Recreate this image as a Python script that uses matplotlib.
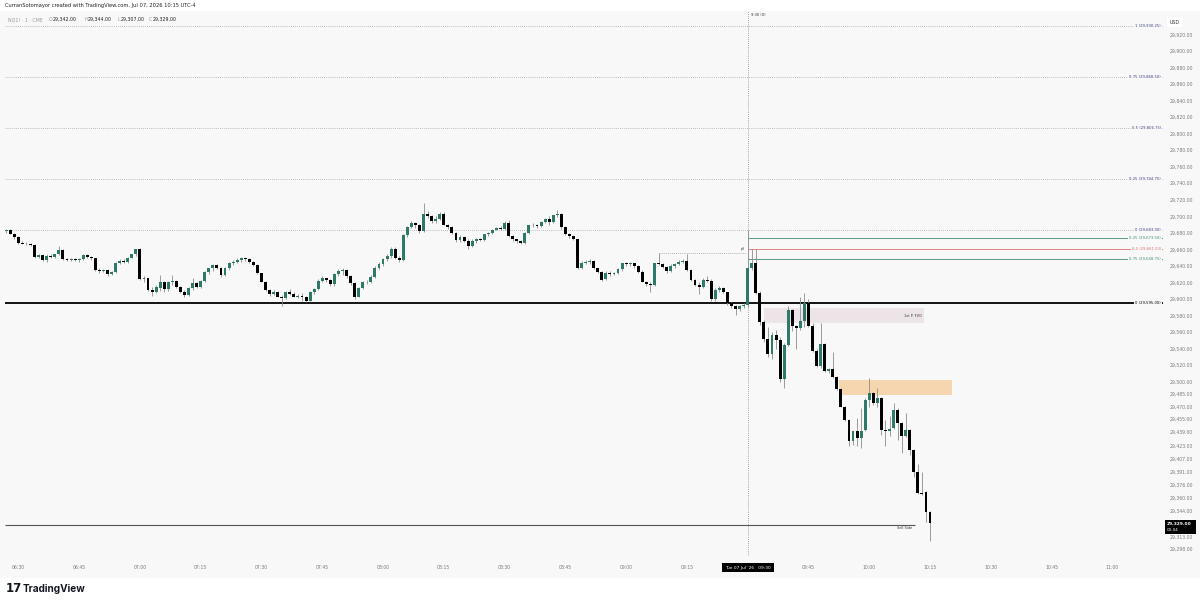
import matplotlib.pyplot as plt
from matplotlib.patches import Rectangle, FancyBboxPatch
from matplotlib.transforms import blended_transform_factory
import numpy as np

# NQ1! 1-minute bars, 06:27 .. 10:15
opens = [29682, 29683, 29679, 29675, 29668, 29667, 29666, 29665, 29651, 29653,
         29647, 29652, 29651, 29654, 29659, 29648, 29647, 29648, 29647, 29648,
         29653, 29651, 29649, 29635, 29634, 29635, 29630, 29633, 29644, 29646,
         29645, 29650, 29654, 29660, 29624, 29625, 29611, 29609, 29613, 29621,
         29612, 29620, 29622, 29614, 29609, 29605, 29613, 29619, 29615, 29622,
         29633, 29637, 29641, 29638, 29629, 29637, 29643, 29645, 29647, 29649,
         29648, 29645, 29641, 29631, 29621, 29611, 29606, 29609, 29603, 29601,
         29608, 29606, 29603, 29604, 29602, 29598, 29608, 29612, 29622, 29625,
         29623, 29618, 29630, 29634, 29635, 29628, 29619, 29603, 29613, 29620,
         29621, 29627, 29638, 29642, 29648, 29652, 29661, 29650, 29647, 29677,
         29687, 29692, 29689, 29682, 29703, 29700, 29694, 29697, 29703, 29690,
         29687, 29680, 29671, 29675, 29670, 29664, 29670, 29672, 29671, 29678,
         29680, 29684, 29686, 29685, 29692, 29676, 29672, 29670, 29668, 29680,
         29689, 29690, 29688, 29693, 29697, 29693, 29701, 29703, 29687, 29678,
         29676, 29672, 29637, 29644, 29645, 29646, 29637, 29633, 29624, 29632,
         29630, 29631, 29636, 29643, 29642, 29643, 29640, 29633, 29621, 29618,
         29617, 29643, 29642, 29639, 29634, 29640, 29642, 29645, 29646, 29635,
         29623, 29617, 29615, 29623, 29622, 29600, 29611, 29613, 29608, 29595,
         29591, 29588, 29592, 29593, 29637, 29643, 29607, 29572, 29552, 29534,
         29556, 29550, 29503, 29545, 29587, 29567, 29565, 29573, 29595, 29567,
         29537, 29519, 29546, 29513, 29515, 29506, 29491, 29470, 29454, 29428,
         29440, 29432, 29442, 29478, 29486, 29474, 29480, 29442, 29441, 29444,
         29466, 29450, 29434, 29442, 29418, 29391, 29366, 29367, 29342]
highs = [29685, 29685, 29680, 29676, 29670, 29669, 29668, 29666, 29655, 29654,
         29654, 29654, 29655, 29664, 29660, 29650, 29649, 29650, 29649, 29655,
         29655, 29652, 29650, 29638, 29636, 29636, 29634, 29645, 29648, 29648,
         29651, 29655, 29661, 29662, 29628, 29626, 29614, 29617, 29629, 29622,
         29622, 29629, 29623, 29616, 29611, 29615, 29625, 29620, 29623, 29634,
         29638, 29642, 29642, 29639, 29639, 29645, 29647, 29649, 29651, 29651,
         29649, 29646, 29642, 29632, 29622, 29612, 29611, 29610, 29605, 29610,
         29612, 29609, 29606, 29607, 29604, 29610, 29613, 29624, 29628, 29626,
         29624, 29632, 29636, 29637, 29636, 29629, 29620, 29615, 29622, 29623,
         29629, 29640, 29645, 29650, 29654, 29663, 29663, 29652, 29678, 29688,
         29694, 29693, 29691, 29716, 29706, 29702, 29700, 29705, 29705, 29691,
         29688, 29681, 29677, 29676, 29672, 29672, 29674, 29674, 29679, 29681,
         29685, 29687, 29688, 29694, 29695, 29677, 29673, 29671, 29681, 29690,
         29692, 29691, 29694, 29698, 29700, 29702, 29708, 29704, 29688, 29680,
         29677, 29673, 29646, 29647, 29648, 29647, 29638, 29634, 29634, 29634,
         29633, 29638, 29644, 29645, 29645, 29644, 29641, 29635, 29622, 29620,
         29644, 29656, 29643, 29640, 29642, 29644, 29647, 29648, 29654, 29636,
         29624, 29620, 29625, 29628, 29624, 29613, 29616, 29614, 29609, 29596,
         29593, 29593, 29595, 29683, 29661, 29661, 29610, 29575, 29566, 29560,
         29562, 29554, 29547, 29591, 29588, 29569, 29603, 29607, 29600, 29571,
         29539, 29571, 29547, 29516, 29536, 29507, 29492, 29471, 29455, 29441,
         29456, 29468, 29480, 29505, 29488, 29492, 29482, 29454, 29458, 29474,
         29468, 29451, 29462, 29443, 29419, 29401, 29391, 29368, 29344]
lows = [29680, 29678, 29673, 29667, 29666, 29665, 29664, 29650, 29649, 29646,
        29645, 29650, 29650, 29653, 29647, 29646, 29646, 29646, 29645, 29647,
        29650, 29647, 29634, 29632, 29633, 29628, 29629, 29632, 29642, 29644,
        29643, 29649, 29652, 29623, 29620, 29610, 29604, 29607, 29610, 29609,
        29610, 29617, 29613, 29607, 29602, 29604, 29611, 29613, 29613, 29620,
        29630, 29634, 29636, 29627, 29628, 29635, 29641, 29643, 29645, 29646,
        29644, 29640, 29630, 29620, 29610, 29604, 29605, 29602, 29592, 29600,
        29605, 29602, 29601, 29598, 29596, 29597, 29606, 29611, 29620, 29621,
        29616, 29616, 29628, 29629, 29626, 29617, 29600, 29602, 29612, 29618,
        29619, 29625, 29636, 29640, 29646, 29650, 29648, 29645, 29646, 29675,
        29686, 29686, 29680, 29681, 29698, 29692, 29692, 29695, 29689, 29685,
        29678, 29669, 29669, 29669, 29661, 29663, 29668, 29670, 29670, 29676,
        29679, 29683, 29683, 29684, 29675, 29670, 29668, 29666, 29667, 29679,
        29687, 29686, 29687, 29692, 29690, 29692, 29699, 29685, 29677, 29674,
        29671, 29636, 29636, 29642, 29642, 29636, 29632, 29622, 29623, 29628,
        29629, 29630, 29634, 29640, 29640, 29638, 29632, 29620, 29616, 29609,
        29616, 29641, 29637, 29632, 29633, 29638, 29641, 29643, 29634, 29622,
        29616, 29606, 29613, 29620, 29598, 29598, 29608, 29607, 29593, 29589,
        29581, 29586, 29589, 29590, 29635, 29606, 29568, 29548, 29530, 29528,
        29540, 29500, 29493, 29543, 29561, 29539, 29563, 29566, 29566, 29536,
        29518, 29517, 29512, 29510, 29505, 29490, 29469, 29453, 29422, 29424,
        29422, 29420, 29440, 29470, 29472, 29470, 29436, 29422, 29434, 29443,
        29430, 29414, 29433, 29411, 29385, 29364, 29363, 29331, 29307]
closes = [29683, 29679, 29675, 29668, 29667, 29666, 29665, 29651, 29653, 29647,
          29652, 29651, 29654, 29659, 29648, 29647, 29648, 29647, 29648, 29653,
          29651, 29649, 29635, 29634, 29635, 29630, 29633, 29644, 29646, 29645,
          29650, 29654, 29660, 29624, 29625, 29611, 29609, 29615, 29621, 29612,
          29620, 29622, 29614, 29609, 29605, 29613, 29619, 29615, 29622, 29633,
          29637, 29641, 29638, 29629, 29637, 29643, 29645, 29647, 29649, 29648,
          29645, 29641, 29631, 29621, 29611, 29606, 29609, 29603, 29601, 29608,
          29606, 29603, 29604, 29602, 29598, 29608, 29612, 29622, 29625, 29623,
          29618, 29630, 29634, 29635, 29628, 29619, 29603, 29613, 29620, 29621,
          29627, 29638, 29642, 29648, 29652, 29661, 29650, 29647, 29677, 29687,
          29692, 29689, 29682, 29703, 29700, 29694, 29697, 29703, 29690, 29687,
          29680, 29671, 29675, 29670, 29664, 29670, 29672, 29671, 29678, 29680,
          29684, 29686, 29685, 29692, 29676, 29672, 29670, 29668, 29680, 29689,
          29690, 29688, 29693, 29697, 29693, 29701, 29703, 29687, 29678, 29676,
          29672, 29637, 29644, 29645, 29646, 29637, 29633, 29623, 29632, 29630,
          29631, 29636, 29643, 29642, 29643, 29640, 29633, 29621, 29618, 29617,
          29643, 29642, 29639, 29634, 29640, 29642, 29645, 29646, 29635, 29623,
          29617, 29615, 29623, 29622, 29600, 29611, 29613, 29608, 29595, 29591,
          29588, 29592, 29593, 29637, 29643, 29607, 29572, 29552, 29534, 29556,
          29550, 29503, 29545, 29587, 29567, 29565, 29573, 29595, 29567, 29537,
          29519, 29546, 29513, 29515, 29506, 29491, 29470, 29454, 29428, 29440,
          29432, 29440, 29478, 29486, 29474, 29480, 29442, 29441, 29443, 29466,
          29450, 29434, 29442, 29418, 29391, 29365, 29364, 29342, 29329]

# time axis: bar 0 = 06:27, one bar per minute
time_labels = ['06:30', '06:45', '07:00', '07:15', '07:30', '07:45', '08:00', '08:15',
               '08:30', '08:45', '09:00', '09:15', '09:30', '09:45', '10:00', '10:15',
               '10:30', '10:45', '11:00']
time_label_bars = [3, 18, 33, 48, 63, 78, 93, 108, 123, 138, 153, 168, 183, 198, 213,
                   228, 243, 258, 273]
open_bar = 183  # 09:30

price_ticks = [29920, 29900, 29880, 29860, 29840, 29820, 29800, 29780, 29760, 29740,
               29720, 29700, 29680, 29660, 29640, 29620, 29600, 29580, 29560, 29540,
               29520, 29500, 29485, 29470, 29455, 29439, 29423, 29407, 29391, 29376,
               29360, 29344, 29313, 29298]
last_price = 29329.00

# fib levels (premarket range)
fib_top_levels = [29930.25, 29868.50, 29806.75, 29744.75, 29683.00]
fib_top_labels = ['1 (29,930.25)', '0.75 (29,868.50)', '0.5 (29,806.75)',
                  '0.25 (29,744.75)', '0 (29,683.00)']
# fib levels drawn from the 09:30 bar
fib_open_levels = [29673.50, 29661.00, 29648.75]
fib_open_labels = ['0.25 (29,673.50)', '0.5 (29,661.00)', '0.75 (29,648.75)']
fib_open_colors = ['#3f8c78', '#d9706f', '#3f8c78']
key_level = 29595.00
ph_level = 29656.0
sell_side = 29327.0
fvg1 = (187, 226.5, 29571, 29589)     # bar from, bar to, price lo, price hi
fvg2 = (205.6, 233.4, 29484, 29502)

W, H = 1200, 603
BG = '#f8f8f8'
UP = '#2e7a68'
DOWN = '#000000'


def fx(px):
    return px / W


def fy(py):
    return 1 - py / H


fig = plt.figure(figsize=(12, 6.03), dpi=100, facecolor='white')
fig.patches.append(Rectangle((0, fy(578)), 1, fy(11) - fy(578), transform=fig.transFigure,
                             facecolor=BG, edgecolor='none', zorder=-5))
ax = fig.add_axes([fx(5), fy(556), fx(1163) - fx(5), fy(11) - fy(556)])
ax.set_facecolor(BG)
ax.set_xlim(-0.3, 285.5)
ax.set_ylim(29289.3, 29948.2)
for s in ax.spines.values():
    s.set_visible(False)

# candles
x = np.arange(len(closes))
o = np.array(opens, float)
c = np.array(closes, float)
up = c > o
lo = np.minimum(o, c)
hgt = np.maximum(np.abs(c - o), 0.9)
ax.vlines(x, lows, highs, color='#8c8c8c', lw=0.6, zorder=3)
ax.bar(x[up], hgt[up], bottom=lo[up], width=0.72, color=UP, zorder=4, linewidth=0)
ax.bar(x[~up], hgt[~up], bottom=lo[~up], width=0.72, color=DOWN, zorder=4, linewidth=0)

lab_tr = blended_transform_factory(fig.transFigure, ax.transData)
lab_box = dict(boxstyle='square,pad=0.25', facecolor=BG, edgecolor='none')

# premarket fib
for lvl, lab in zip(fib_top_levels, fib_top_labels):
    ax.axhline(lvl, color='#a8a8a8', lw=0.6, ls=(0, (1, 1.5)), zorder=1)
    ax.text(fx(1161), lvl, lab, transform=lab_tr, ha='right', va='center', fontsize=2.7,
            color='#3c3c86', bbox=lab_box, zorder=6)

# 09:30 fib
for lvl, lab, col in zip(fib_open_levels, fib_open_labels, fib_open_colors):
    ax.hlines(lvl, open_bar, 285.5, color=col, lw=0.6, zorder=2)
    ax.text(fx(1161), lvl, lab, transform=lab_tr, ha='right', va='center', fontsize=2.7,
            color=col, bbox=lab_box, zorder=6)

# key level
ax.axhline(key_level, color='black', lw=1.3, zorder=2)
ax.text(fx(1161), key_level, '0 (29,595.00)', transform=lab_tr, ha='right', va='center',
        fontsize=2.7, color='black', bbox=lab_box, zorder=6)

# premarket high marker
ax.hlines(ph_level, 161, open_bar - 0.5, color='#9a9a9a', lw=0.6, ls=(0, (1, 1.5)), zorder=1)
ax.text(open_bar - 0.6, ph_level + 1.5, 'pH', ha='right', va='bottom', fontsize=2.2,
        color='#333333', zorder=6)

# 09:30 vertical
ax.axvline(open_bar, color='#8a8a8a', lw=0.6, ls=(0, (1, 1.5)), zorder=1)
fig.text(fx(751), fy(15), '9:30 (0)', fontsize=2.6, color='#333333', ha='left', va='center')

# FVGs
ax.add_patch(Rectangle((fvg1[0], fvg1[2]), fvg1[1] - fvg1[0], fvg1[3] - fvg1[2],
                       facecolor='#ece4e6', edgecolor='none', zorder=1))
ax.text(fvg1[1] - 0.5, (fvg1[2] + fvg1[3]) / 2, '1st P. FVG', ha='right', va='center',
        fontsize=2.5, color='#333333', zorder=6)
ax.add_patch(Rectangle((fvg2[0], fvg2[2]), fvg2[1] - fvg2[0], fvg2[3] - fvg2[2],
                       facecolor='#f6d6ae', edgecolor='none', zorder=1))

# sell side liquidity
ax.hlines(sell_side, -0.3, 224.3, color='#555555', lw=0.8, zorder=2)
ax.text(223.6, sell_side - 1.5, 'Sell Side', ha='right', va='top', fontsize=2.5,
        color='#333333', zorder=6)

# axes ticks
ax.set_xticks([b for b, t in zip(time_label_bars, time_labels) if b != open_bar])
ax.set_xticklabels([t for b, t in zip(time_label_bars, time_labels) if b != open_bar])
ax.yaxis.tick_right()
ax.set_yticks(price_ticks)
ax.set_yticklabels([f'{v:,.2f}' for v in price_ticks])
ax.tick_params(axis='x', length=0, pad=6.5, labelsize=3.3, labelcolor='#7a7a7a')
ax.tick_params(axis='y', length=0, pad=5, labelsize=3.3, labelcolor='#7a7a7a')

# axis line boxes
fig.text(fx(748), fy(567.5), "Tue 07 Jul '26   09:30", fontsize=3.2, color='white',
         ha='center', va='center',
         bbox=dict(boxstyle='square,pad=0.6', facecolor='black', edgecolor='none'))
fig.patches.append(FancyBboxPatch((fx(1165), fy(534)), fx(31), fy(520) - fy(534),
                                  boxstyle='square,pad=0', transform=fig.transFigure,
                                  facecolor='black', edgecolor='none', zorder=5))
fig.text(fx(1167), fy(523.5), f'{last_price:,.2f}', fontsize=3.2, color='white',
         ha='left', va='center', fontweight='bold', zorder=6)
fig.text(fx(1167), fy(530), '00:04', fontsize=3.0, color='white', ha='left', va='center',
         zorder=6)
fig.text(fx(1170), fy(22), 'USD', fontsize=3.4, color='#333333', ha='left', va='center',
         bbox=dict(boxstyle='square,pad=0.6', facecolor='white', edgecolor='none'))

# header
fig.text(fx(5), fy(5), 'CurranSotomayor created with TradingView.com, Jul 07, 2026 10:15 UTC-4',
         fontsize=3.7, color='#222222', ha='left', va='center')
fig.text(fx(8), fy(19.5), 'NQ1! · 1 · CME', fontsize=3.4, color='#9a9a9a', ha='left', va='center')
for px, letter, val in [(49, 'O', '29,342.00'), (84, 'H', '29,344.00'),
                        (117, 'L', '29,307.00'), (149, 'C', '29,329.00')]:
    fig.text(fx(px), fy(19.5), letter, fontsize=3.4, color='#9a9a9a', ha='left', va='center')
    fig.text(fx(px + 3.5), fy(19.5), val, fontsize=3.4, color='#222222', ha='left', va='center')

# TradingView logo
fig.text(fx(6), fy(589), '17', fontsize=8.5, fontweight='heavy', color='#131722',
         ha='left', va='center')
fig.text(fx(23), fy(589), 'TradingView', fontsize=7.2, fontweight='bold', color='#131722',
         ha='left', va='center', family='Inter')

fig.savefig('out.png', dpi=100, facecolor='white')
